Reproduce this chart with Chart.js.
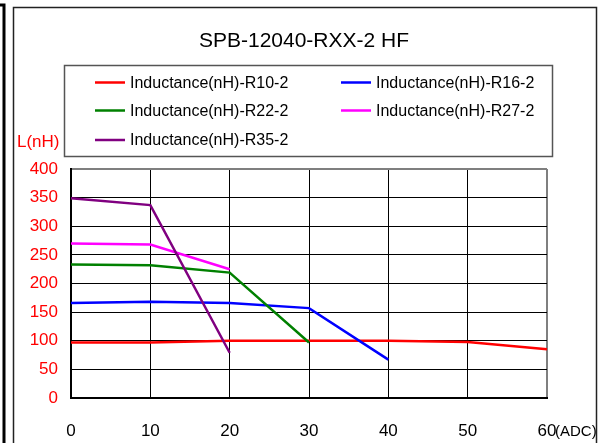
<!DOCTYPE html>
<html>
<head>
<meta charset="utf-8">
<script src="https://cdn.jsdelivr.net/npm/chart.js@4/dist/chart.umd.min.js"></script>
<style>
  html, body { margin: 0; padding: 0; background: #fff; }
  #wrap { width: 608px; height: 443px; }
</style>
</head>
<body>
<div id="wrap"><canvas id="chart" width="608" height="443"></canvas></div>
<script>
// current steps (ADC)
const currents = ['0', '10', '20', '30', '40', '50', '60'];
// inductance in nH
const r10 = [97, 97, 100, 100, 100, 98, 85];
const r16 = [166, 168, 166, 157, 67];
const r22 = [233, 232, 219, 97];
const r27 = [270, 268, 225];
const r35 = [349, 337, 79];

const seriesNames = [
    'Inductance(nH)-R10-2',
    'Inductance(nH)-R16-2',
    'Inductance(nH)-R22-2',
    'Inductance(nH)-R27-2',
    'Inductance(nH)-R35-2'
];
const seriesColors = ['#ff0000', '#0000ff', '#008000', '#ff00ff', '#800080'];

const FONT = "'Liberation Sans', Arial, sans-serif";
Chart.defaults.font.family = FONT;

// frame, boxed legend and the extra axis captions
const decorations = {
    id: 'decorations',
    beforeDraw(chart) {
        const ctx = chart.ctx;
        ctx.save();
        ctx.strokeStyle = '#000';
        ctx.lineWidth = 3;
        ctx.beginPath();
        ctx.moveTo(0, 5);
        ctx.lineTo(4, 5);
        ctx.lineTo(4, 443);
        ctx.stroke();
        ctx.lineWidth = 1.5;
        ctx.strokeStyle = '#222';
        ctx.strokeRect(13.5, 7.5, 583, 440);
        ctx.restore();
    },
    afterDraw(chart) {
        const ctx = chart.ctx;
        ctx.save();
        // legend box
        ctx.strokeStyle = '#555';
        ctx.lineWidth = 1.5;
        ctx.strokeRect(64.5, 65.5, 488, 91);
        ctx.font = '16px ' + FONT;
        ctx.textBaseline = 'middle';
        ctx.textAlign = 'left';
        const colX = [95, 341];
        const rowY = [82.5, 110.5, 140];
        chart.data.datasets.forEach((ds, i) => {
            const x = colX[i % 2];
            const y = rowY[Math.floor(i / 2)];
            ctx.strokeStyle = ds.borderColor;
            ctx.lineWidth = 2.5;
            ctx.beginPath();
            ctx.moveTo(x, y);
            ctx.lineTo(x + 30, y);
            ctx.stroke();
            ctx.fillStyle = '#000';
            ctx.fillText(ds.label, x + 35, y + 1);
        });
        // axis captions
        ctx.fillStyle = '#ff0000';
        ctx.font = '17px ' + FONT;
        ctx.fillText('L(nH)', 17, 142);
        ctx.fillStyle = '#000';
        ctx.font = '15px ' + FONT;
        ctx.fillText('(ADC)', 555, 432);
        ctx.restore();
    }
};

const datasets = [r10, r16, r22, r27, r35].map((values, i) => ({
    label: seriesNames[i],
    data: values,
    borderColor: seriesColors[i],
    backgroundColor: seriesColors[i],
    borderWidth: 2.5,
    pointRadius: 0,
    tension: 0,
    fill: false,
    order: 5 - i
}));

new Chart(document.getElementById('chart').getContext('2d'), {
    type: 'line',
    data: {
        labels: currents,
        datasets: datasets
    },
    options: {
        responsive: false,
        animation: false,
        layout: {
            padding: 0
        },
        plugins: {
            legend: { display: false },
            tooltip: { enabled: false },
            title: {
                display: true,
                text: 'SPB-12040-RXX-2 HF',
                color: '#000',
                font: { size: 21, weight: 'normal', family: FONT },
                padding: { top: 29, bottom: 114.8 }
            }
        },
        scales: {
            x: {
                offset: false,
                afterFit: function (scale) { scale.height = 45; },
                grid: {
                    drawTicks: false,
                    color: (c) => (c.index === currents.length - 1 ? '#7f7f7f' : '#000'),
                    lineWidth: (c) => (c.index === currents.length - 1 ? 2 : 1)
                },
                border: { color: '#000', width: 2 },
                ticks: {
                    color: '#000',
                    padding: 23,
                    maxRotation: 0,
                    font: { size: 17, family: FONT }
                }
            },
            y: {
                min: 0,
                max: 400,
                afterFit: function (scale) { scale.width = 71; },
                grid: {
                    drawTicks: false,
                    color: (c) => (c.tick && c.tick.value === 400 ? '#7f7f7f' : '#000'),
                    lineWidth: (c) => (c.tick && c.tick.value === 400 ? 2 : 1)
                },
                border: { color: '#000', width: 2 },
                ticks: {
                    stepSize: 50,
                    color: '#ff0000',
                    padding: 13,
                    font: { size: 17, family: FONT }
                }
            },
            // empty axis that only keeps room on the right for the (ADC) caption
            spacer: {
                type: 'linear',
                position: 'right',
                afterFit: function (scale) { scale.width = 61; },
                grid: { display: false },
                border: { display: false },
                ticks: { display: false }
            }
        }
    },
    plugins: [decorations]
});
</script>
</body>
</html>
